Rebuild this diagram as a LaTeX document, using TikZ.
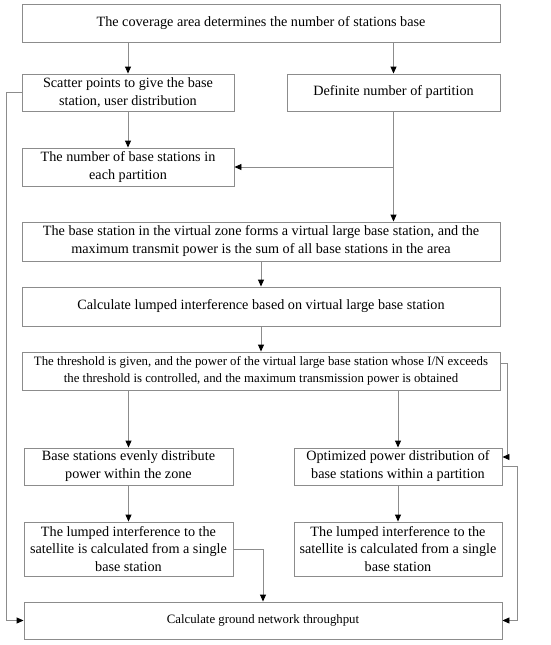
\documentclass[tikz,border=0pt]{standalone}
\usepackage{fontspec}
\setmainfont{Liberation Serif}
\usetikzlibrary{arrows.meta}
\definecolor{linegray}{rgb}{0.55,0.55,0.55}
\tikzset{
  box/.style={draw=linegray, line width=0.9pt, rectangle, align=center, inner sep=0pt,
    font=\fontsize{14.2}{18}\selectfont},
  smallfont/.style={font=\fontsize{12.8}{17}\selectfont},
  arr/.style={draw=linegray, line width=0.9pt, -{Triangle[length=7pt,width=6pt,color=black]}},
}
\begin{document}
\begin{tikzpicture}[x=1pt,y=-1pt]
\useasboundingbox (0,0) rectangle (550,645);
\node[box, minimum width=478pt, minimum height=38pt] (top) at (261,23) {The coverage area determines the number of stations base};
\node[box, minimum width=212pt, minimum height=37pt] (scatter) at (128,92.5) {Scatter points to give the base\\station, user distribution};
\node[box, minimum width=213pt, minimum height=37pt] (definite) at (393.5,92.5) {Definite number of partition};
\node[box, minimum width=212pt, minimum height=38pt] (number) at (128,167) {The number of base stations in\\each partition};
\node[box, minimum width=478pt, minimum height=39pt] (virtual) at (261,241.5) {The base station in the virtual zone forms a virtual large base station, and the\\maximum transmit power is the sum of all base stations in the area};
\node[box, minimum width=478pt, minimum height=39pt] (calc) at (261,306.5) {Calculate lumped interference based on virtual large base station};
\node[box, smallfont, minimum width=478pt, minimum height=38pt] (threshold) at (261,371) {The threshold is given, and the power of the virtual large base station whose I/N exceeds\\the threshold is controlled, and the maximum transmission power is obtained};
\node[box, minimum width=209pt, minimum height=37pt] (base) at (128.5,466.5) {Base stations evenly distribute\\power within the zone};
\node[box, minimum width=208pt, minimum height=37pt] (optimized) at (398,466.5) {Optimized power distribution of\\base stations within a partition};
\node[box, font=\fontsize{14.2}{17.5}\selectfont, minimum width=209pt, minimum height=54pt] (lumpedL) at (128.5,549) {The lumped interference to the\\satellite is calculated from a single\\base station};
\node[box, font=\fontsize{14.2}{17.5}\selectfont, minimum width=208pt, minimum height=54pt] (lumpedR) at (398,549) {The lumped interference to the\\satellite is calculated from a single\\base station};
\node[box, smallfont, minimum width=478pt, minimum height=37pt] (bottom) at (263,620.5) {Calculate ground network throughput};

\draw[arr] (top.south -| scatter.north) -- (scatter.north);
\draw[arr] (top.south -| definite.north) -- (definite.north);
\draw[arr] (scatter.south) -- (number.north);
\draw[arr] (definite.south) -- (definite.south |- virtual.north);
\draw[arr] (definite.south |- number.east) -- (number.east);
\draw[arr] (virtual.south) -- (calc.north);
\draw[arr] (calc.south) -- (threshold.north);
\draw[arr] (threshold.south -| base.north) -- (base.north);
\draw[arr] (threshold.south -| optimized.north) -- (optimized.north);
\draw[arr] ([yshift=8pt]threshold.east) -- ++(7,0) |- ([yshift=9.5pt]optimized.east);
\draw[arr] (optimized.east) -- ++(15,0) |- (bottom.east);
\draw[arr] (base.south) -- (lumpedL.north);
\draw[arr] (optimized.south) -- (lumpedR.north);
\draw[arr] (lumpedL.east) -| (bottom.north);
\draw[arr] (scatter.west) -- ++(-15,0) |- (bottom.west);
\end{tikzpicture}
\end{document}
